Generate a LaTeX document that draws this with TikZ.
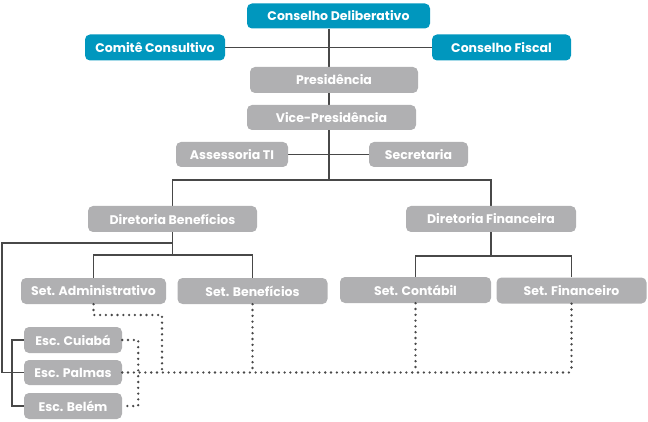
\documentclass[tikz,border=0pt]{standalone}
\usepackage{fontspec}
\setmainfont{Poppins}
\usepackage{tikz}
\usetikzlibrary{positioning, calc, backgrounds}
\usepackage{xcolor}
\definecolor{tealbox}{RGB}{0,151,190}
\definecolor{greybox}{RGB}{176,176,178}
\definecolor{darkline}{RGB}{72,72,72}
\tikzset{tealnode/.style={rounded corners=5pt, fill=tealbox, text=white, font=\fontsize{12.5}{14}\selectfont\bfseries, inner sep=0pt},greynode/.style={rounded corners=5pt, fill=greybox, text=white, font=\fontsize{12.5}{14}\selectfont\bfseries, inner sep=0pt}}
\tikzset{orgline/.style={draw=darkline, line width=1.7pt},dotline/.style={draw=darkline, line width=2.6pt, line cap=round, dash pattern=on 0pt off 5.8pt}}

\begin{document}
\begin{tikzpicture}[
        x=1pt, y=-1pt,
        line join=miter,
    ]
        \useasboundingbox (0, 0) rectangle (648, 422);
        % Boxes
        \node[tealnode, minimum width=183pt, minimum height=25pt] (delib) at (338.5, 16) {Conselho Deliberativo};
        \node[tealnode, minimum width=140pt, minimum height=26pt] (comite) at (155, 47.5) {Comitê Consultivo};
        \node[tealnode, minimum width=139pt, minimum height=26pt] (fiscal) at (501.5, 47.5) {Conselho Fiscal};
        \node[greynode, minimum width=168pt, minimum height=26pt] (pres) at (334, 80) {Presidência};
        \node[greynode, minimum width=169pt, minimum height=25pt] (vice) at (331.5, 117.5) {Vice-Presidência};
        \node[greynode, minimum width=112pt, minimum height=25pt] (assess) at (232, 154.5) {Assessoria TI};
        \node[greynode, minimum width=99pt, minimum height=25pt] (secret) at (418.5, 154.5) {Secretaria};
        \node[greynode, minimum width=169pt, minimum height=26pt] (dirben) at (172.5, 219) {Diretoria Benefícios};
        \node[greynode, minimum width=170pt, minimum height=26pt] (dirfin) at (491, 219) {Diretoria Financeira};
        \node[greynode, minimum width=145pt, minimum height=26pt] (setadm) at (93.5, 291) {Set. Administrativo};
        \node[greynode, minimum width=150pt, minimum height=26pt] (setben) at (252.5, 291) {Set. Benefícios};
        \node[greynode, minimum width=151pt, minimum height=26pt] (setcont) at (415.5, 290) {Set. Contábil};
        \node[greynode, minimum width=150pt, minimum height=26pt] (setfin) at (571.5, 290.5) {Set. Financeiro};
        \node[greynode, minimum width=98pt, minimum height=26pt] (cuiaba) at (73, 340) {Esc. Cuiabá};
        \node[greynode, minimum width=98pt, minimum height=25pt] (palmas) at (73, 372.5) {Esc. Palmas};
        \node[greynode, minimum width=98pt, minimum height=26pt] (belem) at (73, 406) {Esc. Belém};
        % Junctions
        \coordinate (trunk) at (329, 180);
        \coordinate (benbus) at (172.5, 255);
        \coordinate (finbus) at (491, 256);
        \coordinate (escbranch) at (172.5, 243);
        \coordinate (leftrail) at (2, 243);
        \coordinate (admturn) at (162, 315);
        % Lines
        \begin{pgfonlayer}{background}
        \draw[orgline] (trunk |- delib.south) -- (trunk);
        \draw[orgline] (comite.east) -- (fiscal.west);
        \draw[orgline] (assess.east) -- (secret.west);
        \draw[orgline] (dirben.north) |- (trunk) -| (dirfin.north);
        \draw[orgline] (dirben.south) -- (benbus);
        \draw[orgline] (setadm.north) |- (benbus) -| (setben.north);
        \draw[orgline] (dirfin.south) -- (finbus);
        \draw[orgline] (setcont.north) |- (finbus) -| (setfin.north);
        \draw[orgline] (escbranch) -- (leftrail) |- (palmas.west);
        \draw[orgline] (cuiaba.west) -| ([xshift=-12pt]palmas.west) |- (belem.west);
        \end{pgfonlayer}
        % Dotted links
        \draw[dotline] (cuiaba.east) -| ([xshift=16pt]palmas.east) |- (belem.east);
        \draw[dotline] (palmas.east) -- (palmas.east -| setfin.south);
        \draw[dotline] (setadm.south) |- (admturn) -- (admturn |- palmas.east);
        \draw[dotline] (setben.south) -- (setben.south |- palmas.east);
        \draw[dotline] (setcont.south) -- (setcont.south |- palmas.east);
        \draw[dotline] (setfin.south) -- (setfin.south |- palmas.east);
    \end{tikzpicture}
\end{document}
